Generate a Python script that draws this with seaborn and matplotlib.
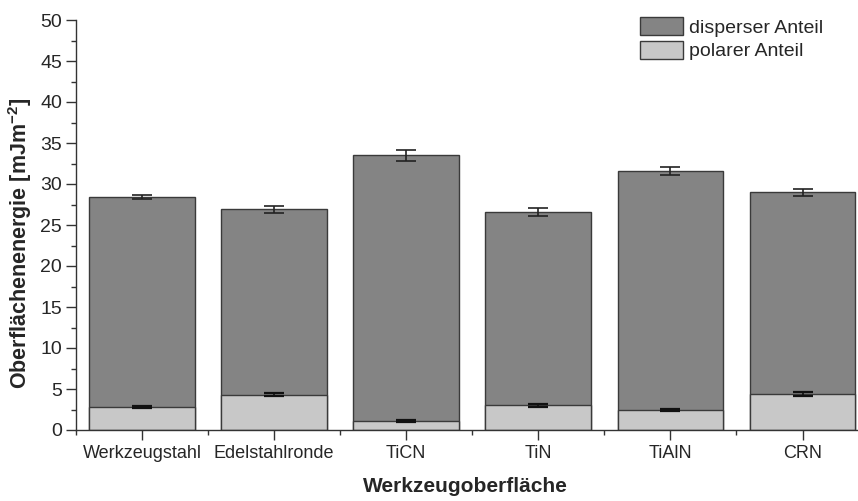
import numpy as np
import pandas as pd
import matplotlib
matplotlib.use("Agg")
import matplotlib.pyplot as plt
import seaborn as sns
from matplotlib.patches import Patch
from matplotlib.ticker import MultipleLocator, FixedLocator

categories = ["Werkzeugstahl", "Edelstahlronde", "TiCN", "TiN", "TiAlN", "CRN"]
polar = [2.75, 4.3, 1.1, 3.0, 2.45, 4.35]
polar_err = [0.12, 0.2, 0.08, 0.15, 0.08, 0.25]
dispers = [25.65, 22.6, 32.4, 23.6, 29.15, 24.65]
total_err = [0.25, 0.4, 0.65, 0.5, 0.5, 0.45]

sns.set_theme(style="ticks")
plt.rcParams['font.family'] = ['Liberation Sans', 'DejaVu Sans']
plt.rcParams['mathtext.fontset'] = 'custom'
plt.rcParams['mathtext.rm'] = 'Liberation Sans'
plt.rcParams['mathtext.bf'] = 'Liberation Sans:bold'

total = [p + d for p, d in zip(polar, dispers)]
df = pd.DataFrame({"cat": categories, "polar": polar, "total": total})

fig = plt.figure(figsize=(8.58, 5.01), dpi=100)
ax = fig.add_axes([76/858, 71/501, 1 - 76/858, 410/501])

dark = "#848484"
light = "#c8c8c8"
sns.barplot(data=df, x="cat", y="total", color=dark, saturation=1, width=0.8,
            edgecolor="#3a3a3a", linewidth=1.0, ax=ax, errorbar=None)
sns.barplot(data=df, x="cat", y="polar", color=light, saturation=1, width=0.8,
            edgecolor="#3a3a3a", linewidth=1.0, ax=ax, errorbar=None)

xpos = np.arange(len(categories))
ax.errorbar(xpos, total, yerr=total_err, fmt="none", ecolor="#222222",
            elinewidth=1.2, capsize=7.5, capthick=1.2, zorder=5)
ax.errorbar(xpos, polar, yerr=polar_err, fmt="none", ecolor="#111111",
            elinewidth=1.2, capsize=7.5, capthick=1.6, zorder=5)

ax.set_xlim(-0.5, 5.42)
ax.set_ylim(0, 50)
ax.yaxis.set_major_locator(MultipleLocator(5))
ax.yaxis.set_minor_locator(MultipleLocator(2.5))
ax.xaxis.set_minor_locator(FixedLocator(np.arange(-0.5, 6, 1)))
ax.tick_params(axis="y", which="major", labelsize=14, length=7, width=1, color="#333333", pad=3)
ax.tick_params(axis="y", which="minor", length=3.5, width=1, color="#333333")
ax.tick_params(axis="x", which="major", labelsize=13, length=7, width=1, color="#333333", pad=4)
ax.tick_params(axis="x", which="minor", length=3.5, width=1, color="#333333")
for s in ["top", "right"]:
    ax.spines[s].set_visible(False)
for s in ["left", "bottom"]:
    ax.spines[s].set_color("#333333")
    ax.spines[s].set_linewidth(1.0)

ax.set_xlabel("Werkzeugoberfläche", fontsize=15, fontweight="bold")
ax.xaxis.set_label_coords(2.95 / 5.92, (430 - 477) / 410)
ax.set_ylabel("Oberflächenenergie [mJm$^{\\mathbf{-2}}$]", fontsize=15.5, fontweight="bold")
ax.yaxis.set_label_coords((34 - 76) / 782, 0.455)

handles = [Patch(facecolor=dark, edgecolor="#3a3a3a", label="disperser Anteil"),
           Patch(facecolor=light, edgecolor="#3a3a3a", label="polarer Anteil")]
ax.legend(handles=handles, loc="upper left", bbox_to_anchor=((640 - 76) / 782, 1 + 3 / 410),
          frameon=False, fontsize=14, handlelength=2.2, handleheight=1.07, handletextpad=0.3,
          labelspacing=0.2, borderaxespad=0, borderpad=0)

fig.savefig("out.png", dpi=100)
